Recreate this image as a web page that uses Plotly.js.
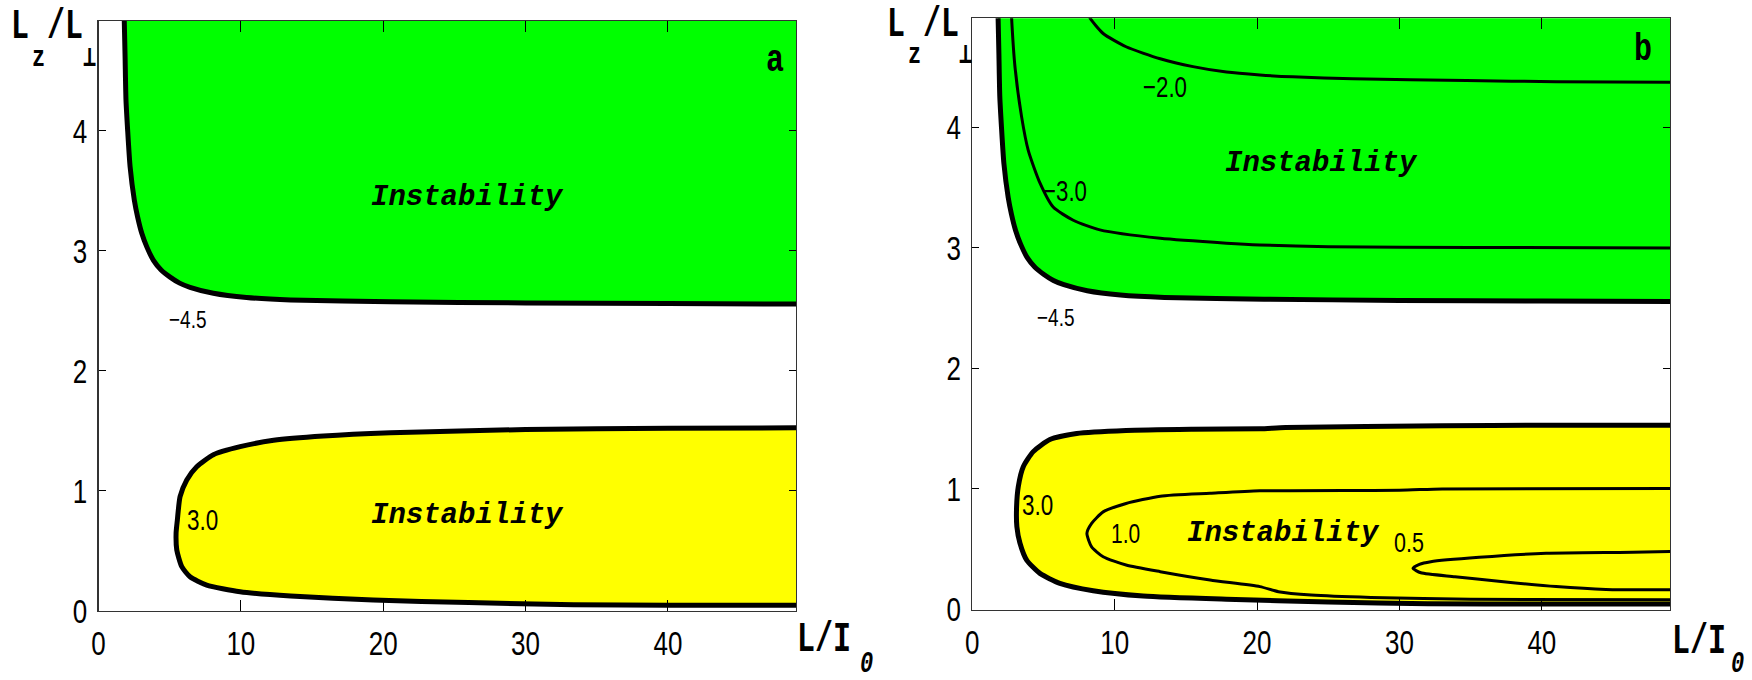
<!DOCTYPE html>
<html>
<head>
<meta charset="utf-8">
<script src="https://cdn.plot.ly/plotly-3.0.1.min.js"></script>
<style>
  html, body { margin: 0; padding: 0; background: #fff; }
  #chart { width: 1752px; height: 680px; }
</style>
</head>
<body>
<div id="chart"></div>
<script>
// Axis ticks
const xTicks = [0, 10, 20, 30, 40];
const yTicks = [0, 1, 2, 3, 4];

// Contour levels shown in each panel
const levelsA = [-4.5, 3.0];
const levelsB = [-4.5, -3.0, -2.0, 3.0, 1.0, 0.5];

// -4.5 contour: lower edge of the upper instability zone (both panels)
const edgeUpperX = [1.79, 1.81, 1.87, 1.93, 2.05, 2.22, 2.52, 2.75, 3.04, 3.4, 3.86, 4.4, 5.03, 5.7, 6.43, 8.07, 10.4, 13.5, 20.5, 30, 40, 50];
const edgeUpperY = [5.0, 4.92, 4.6, 4.26, 4.0, 3.70, 3.42, 3.28, 3.145, 3.03, 2.92, 2.84, 2.78, 2.73, 2.695, 2.645, 2.61, 2.59, 2.575, 2.565, 2.56, 2.555];

// 3.0 contour, panel a: edge of the lower instability zone
const aEdgeLowerX = [50, 40, 30, 20.5, 15.8, 12.3, 9.95, 8.07, 6.9, 6.2, 5.73, 5.54, 5.45, 5.5, 5.85, 6.43, 7.6, 9.95, 13.5, 19.3, 26, 33.4, 40, 50];
const aEdgeLowerY = [1.525, 1.52, 1.51, 1.483, 1.456, 1.42, 1.367, 1.30, 1.20, 1.09, 0.95, 0.756, 0.645, 0.506, 0.367, 0.283, 0.214, 0.158, 0.1225, 0.089, 0.068, 0.05, 0.045, 0.045];

// 3.0 contour, panel b
const bEdgeLowerX = [50, 40, 33, 22, 20.2, 15.5, 10.8, 7.33, 5.45, 4.28, 3.58, 3.23, 3.11, 3.13, 3.35, 3.82, 4.75, 6.15, 8.49, 12.0, 17.85, 25, 32, 40, 50];
const bEdgeLowerY = [1.53, 1.53, 1.525, 1.51, 1.50, 1.495, 1.485, 1.46, 1.41, 1.31, 1.185, 1.02, 0.853, 0.687, 0.55, 0.41, 0.30, 0.217, 0.156, 0.112, 0.085, 0.062, 0.048, 0.045, 0.045];

// -3.0 contour, panel b
const bMinus3X = [2.73, 2.76, 3.0, 3.46, 3.93, 4.75, 5.68, 7.09, 8.96, 13.2, 17.85, 20.2, 25, 35, 50];
const bMinus3Y = [5.0, 4.91, 4.50, 4.09, 3.81, 3.54, 3.34, 3.23, 3.15, 3.08, 3.04, 3.025, 3.01, 3.005, 3.0];

// -2.0 contour, panel b
const bMinus2X = [8.0, 8.26, 9.19, 10.8, 13.2, 15.5, 17.85, 20.2, 22.5, 26.7, 34.7, 41, 50];
const bMinus2Y = [5.0, 4.91, 4.78, 4.67, 4.57, 4.505, 4.46, 4.436, 4.42, 4.405, 4.39, 4.38, 4.375];

// 1.0 contour, panel b
const bPlus1X = [50, 33, 30, 20.2, 16.7, 13.2, 10.8, 9.19, 8.38, 8.05, 8.38, 9.19, 10.8, 13.2, 16.7, 20.2, 21.5, 23.8, 28, 35, 50];
const bPlus1Y = [1.005, 1.0, 0.99, 0.985, 0.964, 0.94, 0.88, 0.81, 0.715, 0.632, 0.52, 0.438, 0.369, 0.314, 0.245, 0.19, 0.148, 0.12, 0.10, 0.085, 0.08];

// 0.5 contour, panel b
const bHalfX = [50, 46.4, 40.3, 35.6, 32.2, 31.4, 30.95, 31.5, 33.9, 37.3, 41.0, 44.5, 50];
const bHalfY = [0.485, 0.475, 0.466, 0.433, 0.397, 0.375, 0.342, 0.305, 0.272, 0.23, 0.19, 0.167, 0.165];

// Region and panel labels
const zoneLabel = 'Instability';
const panelNames = ['a', 'b'];

const X_MAX = 49;
const Y_MAX_A = 4.917;
const Y_MAX_B = 4.906;
// far corners used to close the filled zones (outside the visible range)
const X_OUT = 50, Y_OUT = 5.0;

const GREEN = '#00ff00';
const YELLOW = '#ffff00';

const numFont = "'Liberation Sans', Arial, sans-serif";
const monoFont = "'Liberation Mono', 'DejaVu Sans Mono', 'Courier New', monospace";

// glyphs of the original figure are tall and narrow: stretch labels vertically
const STRETCH = 1.3;

function fillTrace(xs, ys, color, ax) {
  return {
    type: 'scatter', mode: 'lines', x: xs, y: ys,
    fill: 'toself', fillcolor: color,
    line: { width: 0, color: color },
    xaxis: ax.x, yaxis: ax.y, hoverinfo: 'skip', showlegend: false
  };
}
function lineTrace(xs, ys, width, ax) {
  return {
    type: 'scatter', mode: 'lines', x: xs, y: ys,
    line: { color: '#000', width: width, shape: 'spline', smoothing: 0.6 },
    xaxis: ax.x, yaxis: ax.y, hoverinfo: 'skip', showlegend: false
  };
}

const axA = { x: 'x', y: 'y' };
const axB = { x: 'x2', y: 'y2' };

const traces = [
  // panel a
  fillTrace(edgeUpperX.concat([X_OUT]), edgeUpperY.concat([Y_OUT]), GREEN, axA),
  fillTrace(aEdgeLowerX, aEdgeLowerY, YELLOW, axA),
  lineTrace(edgeUpperX, edgeUpperY, 5, axA),
  lineTrace(aEdgeLowerX, aEdgeLowerY, 5, axA),
  // panel b
  fillTrace(edgeUpperX.concat([X_OUT]), edgeUpperY.concat([Y_OUT]), GREEN, axB),
  fillTrace(bEdgeLowerX, bEdgeLowerY, YELLOW, axB),
  lineTrace(bMinus3X, bMinus3Y, 3, axB),
  lineTrace(bMinus2X, bMinus2Y, 3, axB),
  lineTrace(bPlus1X, bPlus1Y, 3, axB),
  lineTrace(bHalfX, bHalfY, 3, axB),
  lineTrace(edgeUpperX, edgeUpperY, 5, axB),
  lineTrace(bEdgeLowerX, bEdgeLowerY, 5, axB)
];

function levelText(v) {
  const s = Math.abs(v).toFixed(1);
  return v < 0 ? '\u2212' + s : s;
}

function xAxisCfg(domain, anchor) {
  return {
    domain: domain, range: [0, X_MAX], tickvals: xTicks, anchor: anchor,
    ticks: 'inside', ticklen: 11, tickwidth: 1, tickcolor: '#000',
    showline: true, linecolor: '#333', linewidth: 1.2, mirror: 'ticks',
    showgrid: false, zeroline: false, ticklabelstandoff: 9,
    tickfont: { family: numFont, size: 26, color: '#000' }
  };
}
function yAxisCfg(domain, top, anchor) {
  return {
    domain: domain, range: [0, top], tickvals: yTicks, anchor: anchor,
    ticks: 'inside', ticklen: 7, tickwidth: 1, tickcolor: '#000',
    showline: true, linecolor: '#333', linewidth: 1.2, mirror: 'ticks',
    showgrid: false, zeroline: false, ticklabelstandoff: 5,
    tickfont: { family: numFont, size: 26, color: '#000' }
  };
}

const stretched = [];
const annotations = [];
function note(text, x, y, xref, yref, font, opts) {
  opts = opts || {};
  if (opts.stretch) stretched.push([annotations.length, opts.stretch]);
  annotations.push({
    text: text, x: x, y: y, xref: xref, yref: yref,
    showarrow: false, font: font, borderpad: 0,
    xanchor: opts.xanchor || 'center', yanchor: 'middle'
  });
}
// pixel helpers for paper-positioned labels
const px = (v) => v / 1752;
const py = (v) => 1 - v / 680;

const zoneFont = { family: monoFont, size: 29, color: '#000', weight: 'bold', style: 'italic' };
const panelFont = { family: monoFont, size: 30, color: '#000', weight: 'bold' };
const titleFont = { family: monoFont, size: 30, color: '#000', weight: 'bold' };
const subFont = { family: monoFont, size: 22, color: '#000', weight: 'bold' };
const subItalic = { family: monoFont, size: 22, color: '#000', weight: 'bold', style: 'italic' };
const lvl = (size) => ({ family: numFont, size: size, color: '#000' });
const S = { stretch: STRETCH };

// panel a
note(zoneLabel, 25.9, 3.44, 'x', 'y', zoneFont);
note(zoneLabel, 25.9, 0.79, 'x', 'y', zoneFont);
note(panelNames[0], 47.55, 4.58, 'x', 'y', panelFont, S);
note(levelText(levelsA[0]), 6.3, 2.43, 'x', 'y', lvl(19), S);
note(levelText(levelsA[1]), 7.31, 0.75, 'x', 'y', lvl(22.5), S);
// panel b
note(zoneLabel, 24.5, 3.70, 'x2', 'y2', zoneFont);
note(zoneLabel, 21.85, 0.63, 'x2', 'y2', zoneFont);
note(panelNames[1], 47.1, 4.64, 'x2', 'y2', panelFont, S);
note(levelText(levelsB[0]), 5.9, 2.42, 'x2', 'y2', lvl(19), S);
note(levelText(levelsB[1]), 6.53, 3.47, 'x2', 'y2', lvl(22.3), S);
note(levelText(levelsB[2]), 13.56, 4.33, 'x2', 'y2', lvl(22.3), S);
note(levelText(levelsB[3]), 4.6, 0.86, 'x2', 'y2', lvl(22.5), S);
note(levelText(levelsB[4]), 10.77, 0.63, 'x2', 'y2', lvl(21), S);
note(levelText(levelsB[5]), 30.67, 0.55, 'x2', 'y2', lvl(21.5), S);

// axis titles: L_z/L_perp at the top left of each panel, L/I_0 past the x axis end
const T = { stretch: 1.4, xanchor: 'left' };
[[0, 0], [876.3, -2.4]].forEach(([dx, dy]) => {
  note('L /L', px(10 + dx), py(27 + dy), 'paper', 'paper', titleFont, T);
  note('z', px(38.3 + dx), py(58 + dy), 'paper', 'paper', subFont, S);
  note('\u22a5', px(89.3 + dx), py(58 + dy), 'paper', 'paper', subFont, S);
});
note('L/I', px(796), py(640), 'paper', 'paper', titleFont, T);
note('0', px(866), py(664), 'paper', 'paper', subItalic, S);
note('L/I', px(1671), py(642), 'paper', 'paper', titleFont, T);
note('0', px(1737), py(664), 'paper', 'paper', subItalic, S);

const layout = {
  width: 1752, height: 680,
  margin: { l: 0, r: 0, t: 0, b: 0 },
  paper_bgcolor: '#fff', plot_bgcolor: '#fff',
  showlegend: false, hovermode: false,
  xaxis: xAxisCfg([px(98.5), px(796)], 'y'),
  yaxis: yAxisCfg([py(610.7), py(20.7)], Y_MAX_A, 'x'),
  xaxis2: xAxisCfg([px(972.3), px(1670)], 'y2'),
  yaxis2: yAxisCfg([py(609.5), py(18.3)], Y_MAX_B, 'x2'),
  annotations: annotations
};

function stretchText(el, k) {
  const bb = el.getBBox();
  const cy = bb.y + bb.height / 2;
  const base = el.getAttribute('transform') || '';
  el.setAttribute('transform', base + ' translate(0 ' + cy + ') scale(1 ' + k + ') translate(0 ' + (-cy) + ')');
}

Plotly.newPlot('chart', traces, layout, { staticPlot: true, displayModeBar: false }).then((gd) => {
  gd.querySelectorAll('.xtick text, .ytick text, .x2tick text, .y2tick text')
    .forEach((el) => stretchText(el, STRETCH));
  stretched.forEach(([i, k]) => {
    const t = gd.querySelector('.annotation[data-index="' + i + '"] text.annotation-text');
    if (t) stretchText(t, k);
  });
});
</script>
</body>
</html>
